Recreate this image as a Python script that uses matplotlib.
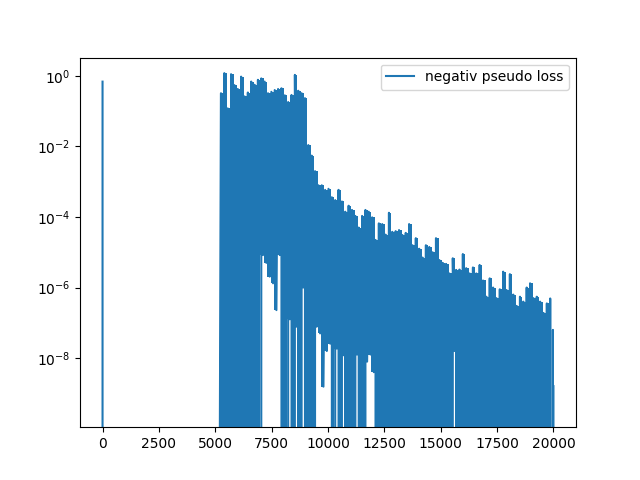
import numpy as np
import matplotlib
matplotlib.use("Agg")
import matplotlib.pyplot as plt

# first iteration, then the loss stays at 0 until ~5200
start_iters = [0, 1]
start_values = [0.69, 0.0]

bin_first = 5290
bin_step = 149
# log10 of the highest value in each bin
peak_exp = [
    -0.49, 0.08, -0.92, 0.05, -0.26, -0.37, -0.02, -0.58, -0.47, -0.16,
    -0.25, -0.11, -0.07, -0.16, -0.49, -0.45, -0.40, -0.37, -0.35, -0.55,
    -0.74, -0.54, 0.03, -0.42, -0.49, -0.63, -1.96, -2.26, -2.70, -3.10,
    -3.10, -3.23, -3.20, -3.44, -3.52, -3.23, -3.56, -3.85, -3.68, -3.80,
    -3.97, -4.30, -3.97, -3.80, -3.85, -4.01, -4.65, -4.18, -4.20, -4.50,
    -3.88, -4.42, -4.40, -4.37, -4.51, -4.45, -4.20, -4.80, -4.60, -4.90,
    -5.15, -4.80, -4.85, -5.00, -4.60, -5.22, -5.30, -5.33, -5.60, -5.17,
    -5.50, -5.49, -5.05, -5.45, -5.60, -5.43, -5.60, -5.36, -5.80, -6.26,
    -5.74, -6.00, -6.30, -6.05, -5.55, -6.07, -5.62, -6.20, -6.52, -6.26,
    -6.40, -6.00, -5.88, -6.30, -6.26, -6.40, -6.72, -6.45, -6.31,
]
# log10 of the lowest value in each bin, None where it drops to 0
trough_exp = [
    None, None, None, None, None, None, None, None, None, None,
    None, None, -5.08, -5.30, -5.69, -5.88, -6.64, -5.08, None, None,
    -6.90, None, -7.11, None, -6.00, None, None, None, -7.11, -7.30,
    -8.81, -7.80, -7.59, None, -7.73, None, -7.92, None, None, None,
    -7.90, None, None, -8.10, -7.90, -8.40, None, None, None, None,
    None, None, None, None, None, None, None, None, None, None,
    None, None, None, None, None, None, None, None, None, -7.80,
    None, None, None, None, None, None, None, None, None, None,
    None, None, None, None, None, None, None, None, None, None,
    None, None, None, None, None, None, None, None, None,
]
# last few iterations
tail_iters = [19975, 19990, 19999]
tail_values = [6.3e-8, 0.0, 1.6e-9]

y_bottom = 10 ** -9.96
y_top = 10 ** 0.52

centers = bin_first + bin_step * np.arange(len(peak_exp))
peaks = 10.0 ** np.array(peak_exp)
troughs = np.array([0.0 if t is None else 10.0 ** t for t in trough_exp])

# zigzag peak -> trough inside each bin, like the raw per-iteration curve
zig_x = np.empty(2 * len(centers))
zig_x[0::2] = centers - 37
zig_x[1::2] = centers + 37
zig_y = np.empty(2 * len(centers))
zig_y[0::2] = peaks
zig_y[1::2] = troughs

x = np.concatenate([start_iters, zig_x, tail_iters])
y = np.concatenate([start_values, zig_y, tail_values])

fig, ax = plt.subplots(figsize=(6.4, 4.8), dpi=100)

# the raw curve is so dense it reads as a solid band
lower = np.where(troughs > 0, troughs, y_bottom)
ax.fill_between(centers, lower, peaks, step="mid", color="C0", linewidth=0)
ax.plot(x, y, color="C0", label="negativ pseudo loss")

ax.set_yscale("log")
ax.set_ylim(y_bottom, y_top)
ax.legend(loc="upper right")

fig.savefig("out.png")
